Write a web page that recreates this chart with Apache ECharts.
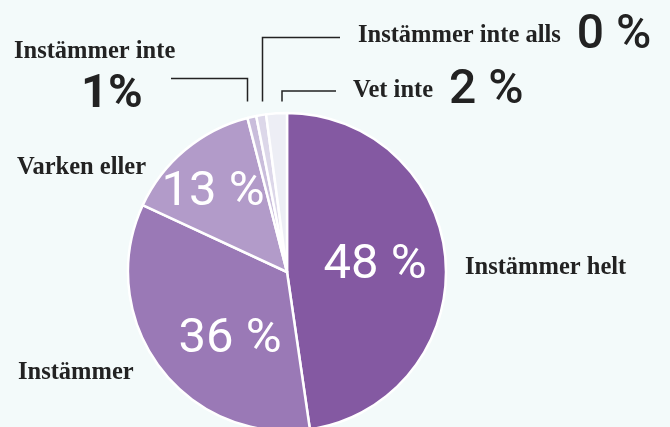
<!DOCTYPE html>
<html>
<head>
<meta charset="utf-8">
<script src="https://cdn.jsdelivr.net/npm/echarts@6/dist/echarts.min.js"></script>
<style>
html,body{margin:0;padding:0;background:#f3fafa;}
#c{width:670px;height:427px;}
</style>
</head>
<body>
<div id="c"></div>
<script>
// Data
var categories = ['Instämmer helt', 'Instämmer', 'Varken eller', 'Instämmer inte', 'Instämmer inte alls', 'Vet inte'];
var values = [47.7, 34.2, 14.1, 0.9, 1.0, 2.1];
var pctLabels = ['48 %', '36 %', '13 %', '1%', '0 %', '2 %'];

// Styling
var colors = ['#8459a2', '#9a79b6', '#b29bc9', '#c9bddb', '#dcd7e9', '#edeef5'];
var numFont = "Roboto, 'DejaVu Sans Condensed', sans-serif";
var nameFont = "'Liberation Serif', serif";
var ink = '#222222';
var insidePos = [[375, 266], [230, 340], [213, 193]];
var outsideLayout = [
  {x: 465, y: 268, align: 'left', verticalAlign: 'middle'},
  {x: 18, y: 373, align: 'left', verticalAlign: 'middle'},
  {x: 17, y: 168, align: 'left', verticalAlign: 'middle'},
  {x: 14, y: 39, align: 'left', verticalAlign: 'top', line: [[247.5, 101.5], [247.5, 78.5], [171, 78.5]]},
  {x: 358, y: 36, align: 'left', verticalAlign: 'middle', line: [[262.5, 101.5], [262.5, 37.5], [340, 37.5]]},
  {x: 353, y: 91, align: 'left', verticalAlign: 'middle', line: [[282, 101.5], [282, 91], [336, 91]]}
];
var mode = ['side', 'side', 'side', 'stack', 'inline', 'inline'];

var mainData = categories.map(function (c, i) {
  return {
    name: c, value: values[i],
    itemStyle: {color: colors[i]},
    label: {show: i < 3}
  };
});
var overlayData = categories.map(function (c, i) {
  return {
    name: c, value: values[i],
    labelLine: {show: !!outsideLayout[i].line}
  };
});

var chart = echarts.init(document.getElementById('c'), null, {renderer: 'canvas', width: 670, height: 427});
chart.setOption({
  backgroundColor: '#f3fafa',
  animation: false,
  series: [
    {
      type: 'pie',
      center: [287, 272],
      radius: 159,
      startAngle: 90,
      clockwise: true,
      avoidLabelOverlap: false,
      silent: true,
      itemStyle: {borderColor: '#ffffff', borderWidth: 2.5},
      label: {
        position: 'inside',
        formatter: function (p) { return pctLabels[p.dataIndex]; },
        color: '#ffffff',
        fontFamily: numFont,
        fontSize: 49
      },
      labelLine: {show: false},
      labelLayout: function (p) {
        var pos = insidePos[p.dataIndex];
        if (!pos) return {};
        return {x: pos[0], y: pos[1], align: 'center', verticalAlign: 'middle'};
      },
      data: mainData
    },
    {
      type: 'pie',
      center: [287, 272],
      radius: 159,
      startAngle: 90,
      clockwise: true,
      avoidLabelOverlap: false,
      silent: true,
      itemStyle: {color: 'rgba(0,0,0,0)', borderWidth: 0},
      label: {
        position: 'outside',
        color: ink,
        formatter: function (p) {
          var i = p.dataIndex;
          if (mode[i] === 'side') return '{name|' + categories[i] + '}';
          if (mode[i] === 'stack') return '{name|' + categories[i] + '}\n{big1|' + pctLabels[i] + '}';
          return '{name|' + categories[i] + '}{gap|}{big|' + pctLabels[i] + '}';
        },
        rich: {
          name: {fontFamily: nameFont, fontWeight: 'bold', fontSize: 24.5, color: ink, lineHeight: 26},
          big: {fontFamily: numFont, fontWeight: 500, fontSize: 48, color: ink, lineHeight: 56},
          big1: {fontFamily: numFont, fontWeight: 'bold', fontSize: 47, color: ink, lineHeight: 60, padding: [0, 0, 0, 67]},
          gap: {width: 16}
        }
      },
      labelLine: {show: false, lineStyle: {color: ink, width: 1.5}},
      labelLayout: function (p) {
        var o = outsideLayout[p.dataIndex];
        var r = {x: o.x, y: o.y, align: o.align, verticalAlign: o.verticalAlign};
        if (o.line) r.labelLinePoints = o.line;
        return r;
      },
      data: overlayData
    }
  ]
});
</script>
</body>
</html>
